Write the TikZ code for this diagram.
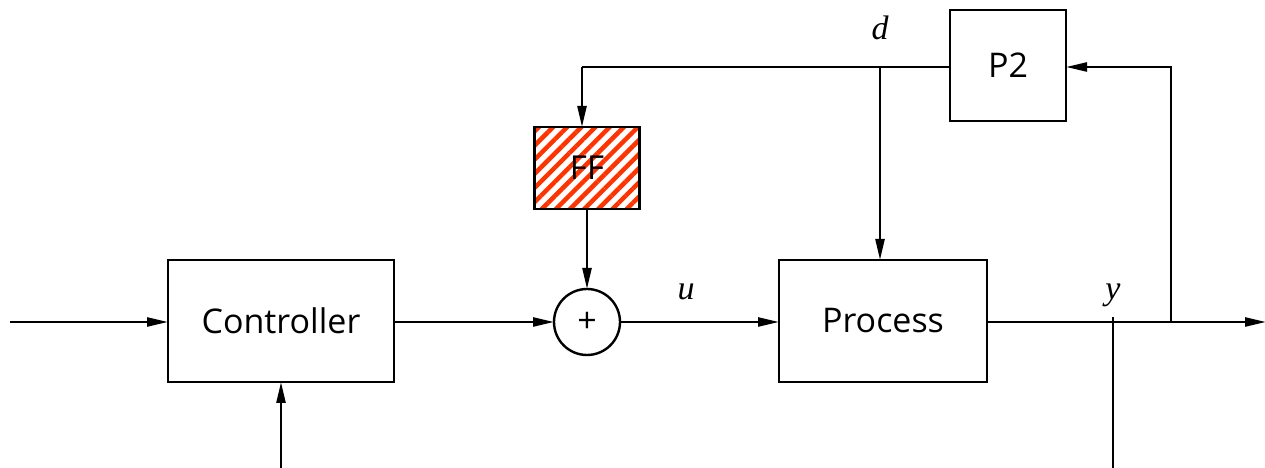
\documentclass[tikz,border=0pt]{standalone}
\usepackage{fontspec}
\setmainfont{Open Sans}
\newfontfamily\lblfont{Liberation Serif}
\usetikzlibrary{arrows.meta,positioning,patterns.meta,calc}
\definecolor{hatch}{HTML}{FF3300}

\begin{document}
\begin{tikzpicture}[
  x=1pt,y=1pt,
  line width=2.4pt,
  block/.style={draw,line width=2.4pt,inner sep=0pt,outer sep=0pt,font=\fontsize{34}{38}\selectfont},
  sumnode/.style={draw,circle,line width=2.4pt,minimum size=66pt,inner sep=0pt,outer sep=0pt,font=\fontsize{34}{38}\selectfont},
  ffbox/.style={block,pattern={Lines[angle=45,distance=10pt,line width=4.5pt]},pattern color=hatch},
  sig/.style={font=\lblfont\itshape\fontsize{34}{38}\selectfont},
  arrow/.style={-{Triangle[length=21pt,width=9pt]},line width=2.4pt}
]
  \useasboundingbox (0,0) rectangle (1265,468);

  \node[block,minimum width=226pt,minimum height=122pt] (ctrl) at (281,147) {Controller};
  \node[sumnode] (sum) at (587,146) {+};
  \node[block,minimum width=208pt,minimum height=122pt] (proc) at (883,147) {Process};
  \node[ffbox,minimum width=105pt,minimum height=82pt] (ff) at (587,300) {};
  \node[font=\fontsize{33}{38}\selectfont] at (ff) {FF};
  \node[block,minimum width=116pt,minimum height=111pt] (ptwo) at (1008,402.5) {P2};

  % signal labels
  \node[sig] (dlab) at (880,440) {d};
  \node[sig] (ulab) at (686,176) {u};
  \node[sig] (ylab) at (1113,173) {y};

  % branch points and free ends
  \coordinate (in) at (10,146);
  \coordinate (ref) at (281,0);
  \coordinate (out) at (1266,146);
  \coordinate (fbk) at (1171,146);
  \coordinate (dtap) at (880,401);
  \coordinate (ffin) at (582,401);
  \coordinate (meas) at (1113,151);
  \coordinate (measend) at (1113,0);

  \draw[arrow] (in) -- (ctrl.west |- in);
  \draw[arrow] (ref) -- (ctrl.south);
  \draw[arrow] (ctrl.east |- sum) -- (sum.west);
  \draw[arrow] (ff.south) -- (sum.north);
  \draw[arrow] (sum.east) -- (proc.west |- sum);
  \draw[arrow] (proc.east |- sum) -- (out);
  \draw[arrow] (fbk) |- (ptwo.east |- ffin);
  \draw (ptwo.west |- ffin) -- (ffin);
  \draw[arrow] (ffin) -- (ffin |- ff.north);
  \draw[arrow] (dtap) -- (dtap |- proc.north);
  \draw (meas) -- (measend);
\end{tikzpicture}
\end{document}
